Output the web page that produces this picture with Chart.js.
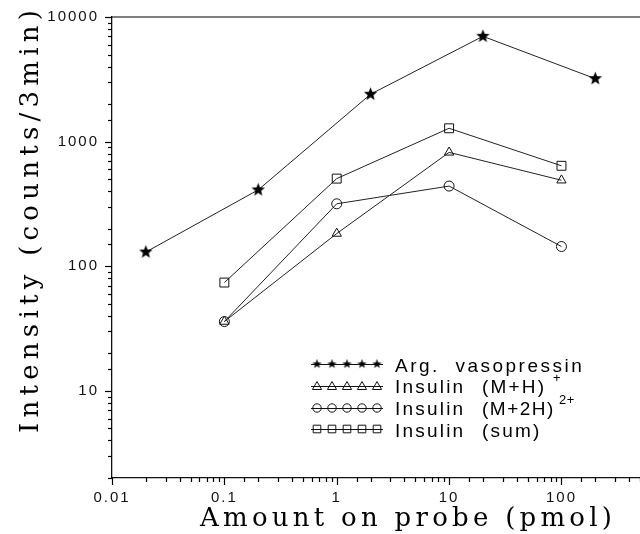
<!DOCTYPE html>
<html>
<head>
<meta charset="utf-8">
<script src="https://cdn.jsdelivr.net/npm/chart.js@4/dist/chart.umd.min.js"></script>
<style>
html,body{margin:0;padding:0;background:#fff;}
#wrap{width:640px;height:534px;}
</style>
</head>
<body>
<div id="wrap"><canvas id="c" width="640" height="534"></canvas></div>
<script>
// ---- data ----
const vasoX = [0.02, 0.2, 2, 20, 200];
const vasoY = [130, 410, 2400, 7000, 3200];
const insulinX = [0.1, 1, 10, 100];
const insulinMH = [36, 183, 820, 490];
const insulinM2H = [36, 317, 440, 144];
const insulinSum = [74, 505, 1280, 640];
const xTickLabels = ['0.01', '0.1', '1', '10', '100'];
const yTickLabels = ['10', '100', '1000', '10000'];
const seriesNames = ['Arg.  vasopressin', 'Insulin', 'Insulin', 'Insulin'];
const xTitle = 'Amount on probe (pmol)';
const yTitle = 'Intensity (counts/3min)';

function pts(xs, ys){ return xs.map((x,i)=>({x:x, y:ys[i]})); }

function makeStar(size, outer, inner){
  const c = document.createElement('canvas');
  c.width = size; c.height = size;
  const g = c.getContext('2d');
  const cx = size/2, cy = size/2;
  g.beginPath();
  for(let i=0;i<10;i++){
    const r = i%2===0 ? outer : inner;
    const a = -Math.PI/2 + i*Math.PI/5;
    const px = cx + r*Math.cos(a), py = cy + r*Math.sin(a);
    if(i===0) g.moveTo(px,py); else g.lineTo(px,py);
  }
  g.closePath();
  g.fillStyle = '#000';
  g.fill();
  return c;
}
const starBig = makeStar(15, 7.0, 3.0);
const starSmall = makeStar(11, 5.0, 2.0);

function isPow10(v){
  const l = Math.log10(v);
  return Math.abs(l - Math.round(l)) < 1e-6;
}
function labelFor(v, list){
  for(const s of list){
    if(Math.abs(Math.log10(parseFloat(s)) - Math.log10(v)) < 1e-6) return s;
  }
  return '';
}

const hasLS = ('letterSpacing' in CanvasRenderingContext2D.prototype);

function fittedText(ctx, text, x, y, width){
  ctx.textAlign = 'left';
  if(hasLS){
    ctx.letterSpacing = '0px';
    const w0 = ctx.measureText(text).width;
    const s = (width - w0) / Math.max(1, text.length - 1);
    ctx.letterSpacing = s.toFixed(2) + 'px';
    ctx.fillText(text, x, y);
    ctx.letterSpacing = '0px';
  } else {
    const w0 = ctx.measureText(text).width;
    ctx.save();
    ctx.translate(x, y);
    ctx.scale(width / w0, 1);
    ctx.fillText(text, 0, 0);
    ctx.restore();
  }
}

function spacedText(ctx, text, x, y, sp){
  ctx.textAlign = 'left';
  if(hasLS) ctx.letterSpacing = sp + 'px';
  ctx.fillText(text, x, y);
  if(hasLS) ctx.letterSpacing = '0px';
}

function drawMarker(ctx, style, x, y){
  ctx.save();
  ctx.strokeStyle = '#111';
  ctx.lineWidth = 1;
  ctx.beginPath();
  if(style === 'star'){
    ctx.drawImage(starSmall, x - starSmall.width/2, y - starSmall.height/2);
  } else if(style === 'circle'){
    ctx.arc(x, y, 4.2, 0, Math.PI*2);
    ctx.stroke();
  } else if(style === 'rect'){
    ctx.rect(x-3.8, y-3.8, 7.6, 7.6);
    ctx.stroke();
  } else if(style === 'triangle'){
    ctx.moveTo(x, y-4.5);
    ctx.lineTo(x+4.6, y+3.5);
    ctx.lineTo(x-4.6, y+3.5);
    ctx.closePath();
    ctx.stroke();
  }
  ctx.restore();
}

const decorPlugin = {
  id: 'decor',
  beforeDraw(chart){
    if(hasLS) chart.ctx.letterSpacing = '2px';
  },
  afterDraw(chart){
    const ctx = chart.ctx;
    if(hasLS) ctx.letterSpacing = '0px';
    const xs = chart.scales.x, ys = chart.scales.y;
    const area = chart.chartArea;
    ctx.save();
    ctx.strokeStyle = '#000';
    ctx.lineWidth = 1.2;
    // top frame line
    ctx.beginPath();
    ctx.moveTo(area.left, area.top);
    ctx.lineTo(chart.width, area.top);
    ctx.stroke();
    // tick marks (positions from the scales)
    xs.ticks.forEach(t=>{
      const px = Math.round(xs.getPixelForValue(t.value)) + 0.5;
      const len = isPow10(t.value) ? 7 : 4;
      ctx.beginPath();
      ctx.moveTo(px, area.bottom);
      ctx.lineTo(px, area.bottom + len);
      ctx.stroke();
    });
    ys.ticks.forEach(t=>{
      const py = Math.round(ys.getPixelForValue(t.value)) + 0.5;
      const len = isPow10(t.value) ? 7 : 4;
      ctx.beginPath();
      ctx.moveTo(area.left - len, py);
      ctx.lineTo(area.left, py);
      ctx.stroke();
    });

    // axis titles
    ctx.fillStyle = '#000';
    ctx.font = "26px 'DejaVu Serif'";
    ctx.textBaseline = 'alphabetic';
    fittedText(ctx, xTitle, 200, 526, 412);
    ctx.save();
    ctx.translate(38, 433);
    ctx.rotate(-Math.PI/2);
    fittedText(ctx, yTitle, 0, 0, 423);
    ctx.restore();

    // legend
    const styles = ['star', 'triangle', 'circle', 'rect'];
    const rowY = [364, 386, 408, 429];
    const base = [372, 393, 415, 437];
    ctx.lineWidth = 1;
    styles.forEach((st, i)=>{
      ctx.beginPath();
      ctx.strokeStyle = '#111';
      ctx.moveTo(311, rowY[i] + 0.5);
      ctx.lineTo(383, rowY[i] + 0.5);
      ctx.stroke();
      for(let k=0;k<5;k++) drawMarker(ctx, st, 317 + k*15, rowY[i]);
    });
    ctx.fillStyle = '#000';
    ctx.font = "19px 'Liberation Sans'";
    spacedText(ctx, seriesNames[0], 395, base[0], 2.5);
    spacedText(ctx, seriesNames[1], 395, base[1], 2.2);
    spacedText(ctx, '(M+H)', 482, base[1], 2.2);
    spacedText(ctx, seriesNames[2], 395, base[2], 2.2);
    spacedText(ctx, '(M+2H)', 482, base[2], 1.5);
    spacedText(ctx, seriesNames[3], 395, base[3], 2.2);
    spacedText(ctx, '(sum)', 482, base[3], 2.2);
    ctx.font = "13px 'Liberation Sans'";
    spacedText(ctx, '+', 553, base[1] - 11, 0);
    spacedText(ctx, '2+', 559, base[2] - 11, 0.5);
    ctx.restore();
  }
};

const lineCol = '#222';
function ds(label, data, style, r){
  return {
    label: label,
    data: data,
    borderColor: lineCol,
    borderWidth: 1,
    pointStyle: style,
    pointRadius: r,
    pointBorderWidth: 1,
    pointBorderColor: '#111',
    pointBackgroundColor: 'rgba(0,0,0,0)',
    tension: 0,
    fill: false,
    clip: false
  };
}

new Chart(document.getElementById('c'), {
  type: 'line',
  data: {
    datasets: [
      ds('Arg. vasopressin', pts(vasoX, vasoY), starBig, 7),
      ds('Insulin (M+H)+', pts(insulinX, insulinMH), 'triangle', 5.4),
      ds('Insulin (M+2H)2+', pts(insulinX, insulinM2H), 'circle', 5),
      ds('Insulin (sum)', pts(insulinX, insulinSum), 'rect', 6.3)
    ]
  },
  options: {
    responsive: false,
    animation: false,
    events: [],
    layout: { autoPadding: false, padding: { top: 17, right: 0, left: 0, bottom: 0 } },
    plugins: { legend: { display: false }, tooltip: { enabled: false } },
    scales: {
      x: {
        type: 'logarithmic',
        position: 'bottom',
        min: 0.01,
        max: 500,
        grid: { display: false, drawTicks: false },
        border: { display: true, color: '#111', width: 1.3 },
        ticks: {
          autoSkip: false,
          maxRotation: 0,
          padding: 11,
          color: '#111',
          font: { family: "'Liberation Sans'", size: 15 },
          callback: (v)=> labelFor(v, xTickLabels)
        },
        afterFit: (s)=>{ s.height = 56; s.paddingLeft = 0; s.paddingRight = 0; }
      },
      y: {
        type: 'logarithmic',
        position: 'left',
        min: 2,
        max: 10000,
        grid: { display: false, drawTicks: false },
        border: { display: true, color: '#111', width: 1.3 },
        ticks: {
          autoSkip: false,
          padding: 13,
          color: '#111',
          font: { family: "'Liberation Sans'", size: 15 },
          callback: (v)=> labelFor(v, yTickLabels)
        },
        afterFit: (s)=>{ s.width = 112; s.paddingTop = 0; s.paddingBottom = 0; }
      }
    }
  },
  plugins: [decorPlugin]
});
</script>
</body>
</html>
